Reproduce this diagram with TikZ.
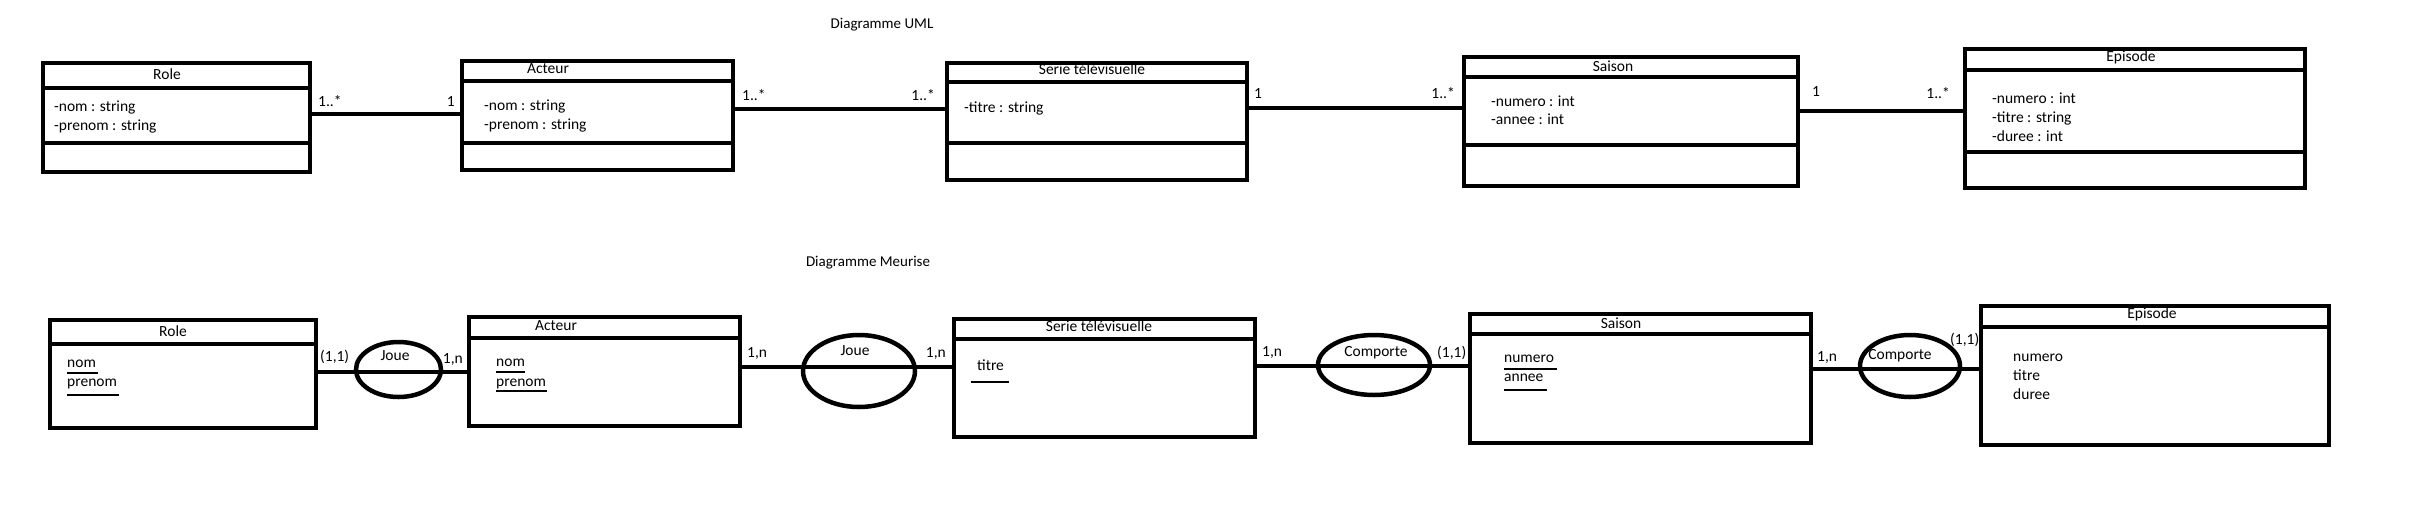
\documentclass[tikz,border=0pt]{standalone}
\usepackage{fontspec}
\setmainfont{Carlito}
\usetikzlibrary{shapes.geometric}
\begin{document}
\begin{tikzpicture}[x=1pt,y=-1pt,
  box/.style={draw, rectangle, line width=4.5pt, inner sep=0pt},
  sepline/.style={line width=4.5pt},
  conn/.style={line width=4.5pt},
  rel/.style={draw, ellipse, line width=4.5pt, inner sep=0pt},
  txt/.style={font=\fontsize{15.5}{18}\selectfont, inner sep=0pt, text height=1.4ex, text depth=0pt},
  ttl/.style={font=\fontsize{15}{18}\selectfont, inner sep=0pt, text height=1.4ex, text depth=0pt},
  ul/.style={line width=1.2pt}]
\fill[white] (0,0) rectangle (2419,528);
\useasboundingbox (0,0) rectangle (2419,528);

% ---------------- UML ----------------
\node[ttl] (umlTitle) at (882,25) {Diagramme UML};

\node[box, minimum width=267, minimum height=109] (uRole) at (176.5,117.5) {};
\node[box, minimum width=271, minimum height=109] (uActeur) at (597.5,115.5) {};
\node[box, minimum width=300, minimum height=117] (uSerie) at (1097,121.5) {};
\node[box, minimum width=334, minimum height=129] (uSaison) at (1631,121.5) {};
\node[box, minimum width=340, minimum height=139] (uEpisode) at (2135,118.5) {};

\draw[sepline] (uRole.west|-0,88) -- (uRole.east|-0,88);
\draw[sepline] (uRole.west|-0,143) -- (uRole.east|-0,143);
\draw[sepline] (uActeur.west|-0,81) -- (uActeur.east|-0,81);
\draw[sepline] (uActeur.west|-0,143) -- (uActeur.east|-0,143);
\draw[sepline] (uSerie.west|-0,82) -- (uSerie.east|-0,82);
\draw[sepline] (uSerie.west|-0,143) -- (uSerie.east|-0,143);
\draw[sepline] (uSaison.west|-0,77) -- (uSaison.east|-0,77);
\draw[sepline] (uSaison.west|-0,145) -- (uSaison.east|-0,145);
\draw[sepline] (uEpisode.west|-0,70) -- (uEpisode.east|-0,70);
\draw[sepline] (uEpisode.west|-0,152) -- (uEpisode.east|-0,152);

\node[txt] (uRoleT) at (167,76) {Role};
\node[txt] (uActeurT) at (548,70) {Acteur};
\node[txt] (uSerieT) at (1092,71) {Serie télévisuelle};
\node[txt] (uSaisonT) at (1613,68) {Saison};
\node[txt] (uEpisodeT) at (2131,58) {Episode};

\node[txt, anchor=west] (uRoleA1) at (54,108) {-nom : string};
\node[txt, anchor=west] (uRoleA2) at (54,127) {-prenom : string};
\node[txt, anchor=west] (uActeurA1) at (484,107) {-nom : string};
\node[txt, anchor=west] (uActeurA2) at (484,126) {-prenom : string};
\node[txt, anchor=west] (uSerieA1) at (964,109) {-titre : string};
\node[txt, anchor=west] (uSaisonA1) at (1491,103) {-numero : int};
\node[txt, anchor=west] (uSaisonA2) at (1491,121) {-annee : int};
\node[txt, anchor=west] (uEpisodeA1) at (1992,100) {-numero : int};
\node[txt, anchor=west] (uEpisodeA2) at (1992,119) {-titre : string};
\node[txt, anchor=west] (uEpisodeA3) at (1992,138) {-duree : int};

\draw[conn] (uRole.east|-0,114) -- (uActeur.west|-0,114);
\draw[conn] (uActeur.east|-0,109) -- (uSerie.west|-0,109);
\draw[conn] (uSerie.east|-0,108) -- (uSaison.west|-0,108);
\draw[conn] (uSaison.east|-0,111) -- (uEpisode.west|-0,111);

\node[txt, anchor=west] (c1) at (318,103) {1..*};
\node[txt, anchor=east] (c2) at (455,103) {1};
\node[txt, anchor=west] (c3) at (742,97) {1..*};
\node[txt, anchor=east] (c4) at (935,97) {1..*};
\node[txt, anchor=west] (c5) at (1254,95) {1};
\node[txt, anchor=east] (c6) at (1455,95) {1..*};
\node[txt, anchor=west] (c7) at (1812,93) {1};
\node[txt, anchor=east] (c8) at (1950,95) {1..*};

% ---------------- Merise ----------------
\node[ttl] (meriseTitle) at (868,263) {Diagramme Meurise};

\node[box, minimum width=266, minimum height=108] (mRole) at (183,374) {};
\node[box, minimum width=271, minimum height=109] (mActeur) at (604.5,371.5) {};
\node[box, minimum width=301, minimum height=118] (mSerie) at (1104.5,378) {};
\node[box, minimum width=341, minimum height=129] (mSaison) at (1640.5,378.5) {};
\node[box, minimum width=348, minimum height=139] (mEpisode) at (2155,375.5) {};

\draw[sepline] (mRole.west|-0,344) -- (mRole.east|-0,344);
\draw[sepline] (mActeur.west|-0,338) -- (mActeur.east|-0,338);
\draw[sepline] (mSerie.west|-0,339) -- (mSerie.east|-0,339);
\draw[sepline] (mSaison.west|-0,334) -- (mSaison.east|-0,334);
\draw[sepline] (mEpisode.west|-0,327) -- (mEpisode.east|-0,327);

\node[txt] (mRoleT) at (173,333) {Role};
\node[txt] (mActeurT) at (556,327) {Acteur};
\node[txt] (mSerieT) at (1099,328) {Serie télévisuelle};
\node[txt] (mSaisonT) at (1621,325) {Saison};
\node[txt] (mEpisodeT) at (2152,315) {Episode};

\node[txt, anchor=west] (mRoleA1) at (67,364) {nom};
\node[txt, anchor=west] (mRoleA2) at (67,383) {prenom};
\node[txt, anchor=west] (mActeurA1) at (496,363) {nom};
\node[txt, anchor=west] (mActeurA2) at (496,383) {prenom};
\node[txt, anchor=west] (mSerieA1) at (977,367) {titre};
\node[txt, anchor=west] (mSaisonA1) at (1504,359) {numero};
\node[txt, anchor=west] (mSaisonA2) at (1504,378) {annee};
\node[txt, anchor=west] (mEpisodeA1) at (2013,358) {numero};
\node[txt, anchor=west] (mEpisodeA2) at (2013,377) {titre};
\node[txt, anchor=west] (mEpisodeA3) at (2013,396) {duree};

\draw[ul] (mRoleA1.west|-0,373) -- ++(31,0);
\draw[ul] (mRoleA2.west|-0,395) -- ++(52,0);
\draw[ul] (mActeurA1.west|-0,372) -- ++(29,0);
\draw[ul] (mActeurA2.west|-0,391) -- ++(51,0);
\draw[ul] ([xshift=-6pt]mSerieA1.west|-0,382) -- ++(38,0);
\draw[ul] (mSaisonA1.west|-0,369) -- ++(53,0);
\draw[ul] (mSaisonA2.west|-0,390) -- ++(43,0);

\draw[conn] (mRole.east|-0,372) -- (mActeur.west|-0,372);
\draw[conn] (mActeur.east|-0,367) -- (mSerie.west|-0,367);
\draw[conn] (mSerie.east|-0,366) -- (mSaison.west|-0,366);
\draw[conn] (mSaison.east|-0,369) -- (mEpisode.west|-0,369);

\node[rel, minimum width=85, minimum height=55] (mJoue1) at (398.5,369.5) {};
\node[rel, minimum width=112, minimum height=72] (mJoue2) at (859,371) {};
\node[rel, minimum width=112, minimum height=60] (mComporte1) at (1374,365) {};
\node[rel, minimum width=100, minimum height=62] (mComporte2) at (1910,366) {};

\node[txt] (mJoue1T) at (395,357) {Joue};
\node[txt] (mJoue2T) at (855,352) {Joue};
\node[txt] (mComporte1T) at (1376,353) {Comporte};
\node[txt] (mComporte2T) at (1900,356) {Comporte};

\node[txt, anchor=west] (d1) at (320,358) {(1,1)};
\node[txt, anchor=east] (d2) at (463,360) {1,n};
\node[txt, anchor=west] (d3) at (747,354) {1,n};
\node[txt, anchor=east] (d4) at (946,354) {1,n};
\node[txt, anchor=west] (d5) at (1262,353) {1,n};
\node[txt, anchor=west] (d6) at (1437,354) {(1,1)};
\node[txt, anchor=west] (d7) at (1817,358) {1,n};
\node[txt, anchor=west] (d8) at (1950,341) {(1,1)};
\end{tikzpicture}
\end{document}
